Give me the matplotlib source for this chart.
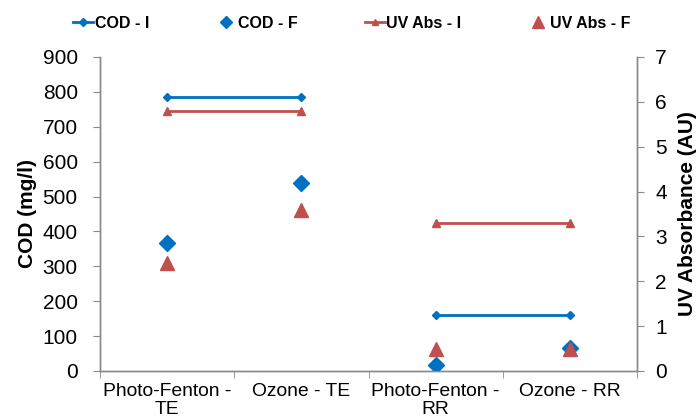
import matplotlib
matplotlib.use("Agg")
import matplotlib.pyplot as plt
import numpy as np
from matplotlib.lines import Line2D

plt.rcParams['font.family'] = ['Liberation Sans', 'DejaVu Sans']

categories = ["Photo-Fenton -\nTE", "Ozone - TE", "Photo-Fenton -\nRR", "Ozone - RR"]
cod_i = [785, 785, 160, 160]
cod_f = [368, 540, 17, 66]
uv_i = [5.8, 5.8, 3.3, 3.3]
uv_f = [2.4, 3.6, 0.5, 0.5]
groups = [(0, 2), (2, 4)]

blue = '#0070C0'
red = '#C0504D'
gray = '#898989'

fig = plt.figure(figsize=(6.98, 4.2), dpi=100)
ax = fig.add_axes([100/698, (420-371)/420, (637-100)/698, (371-57)/420])
ax2 = ax.twinx()

x = np.arange(len(categories))
for a, b in groups:
    ax.plot(x[a:b], cod_i[a:b], color=blue, lw=2, marker='D', ms=4.5, zorder=3)
    ax2.plot(x[a:b], uv_i[a:b], color=red, lw=2, marker='^', ms=6, zorder=3)
ax.plot(x, cod_f, ls='none', marker='D', ms=8.5, color=blue, zorder=4)
ax2.plot(x, uv_f, ls='none', marker='^', ms=10, color=red, zorder=4)

ax.set_xlim(-0.5, len(categories) - 0.5)
ax.set_ylim(0, 900)
ax.set_yticks(np.arange(0, 901, 100))
ax2.set_ylim(0, 7)
ax2.set_yticks(np.arange(0, 8, 1))

ax.set_xticks(x)
ax.set_xticklabels(categories, fontsize=13.9, linespacing=1.0)
ax.set_xticks(np.arange(-0.5, len(categories), 1), minor=True)
ax.tick_params(axis='x', which='major', length=0, pad=9)
ax.tick_params(axis='x', which='minor', length=5, color=gray, direction='out')
ax.tick_params(axis='y', labelsize=15, length=5, color=gray, pad=11)
ax2.tick_params(axis='y', labelsize=15, length=5, color=gray, pad=8)

for axx in (ax, ax2):
    axx.spines['top'].set_visible(False)
    for s in ('left', 'right', 'bottom'):
        axx.spines[s].set_color(gray)
        axx.spines[s].set_linewidth(1)

ax.set_ylabel('COD (mg/l)', fontsize=15, fontweight='bold', labelpad=4)
ax2.set_ylabel('UV Absorbance (AU)', fontsize=15, fontweight='bold', labelpad=8)

handles = [
    Line2D([], [], color=blue, lw=2, marker='D', ms=4),
    Line2D([], [], color=blue, ls='none', marker='D', ms=6.5),
    Line2D([], [], color=red, lw=2, marker='^', ms=5),
    Line2D([], [], color=red, ls='none', marker='^', ms=8),
]
labels = ['COD - I', 'COD - F', 'UV Abs - I', 'UV Abs - F']
fig.legend(handles, labels, loc='center', bbox_to_anchor=(0.504, 0.945), ncol=4,
           frameon=False, prop={'weight': 'bold', 'size': 11.5},
           handlelength=1.25, handletextpad=0.1, columnspacing=4.2,
           borderpad=0, borderaxespad=0)

fig.savefig('out.png', dpi=100)
